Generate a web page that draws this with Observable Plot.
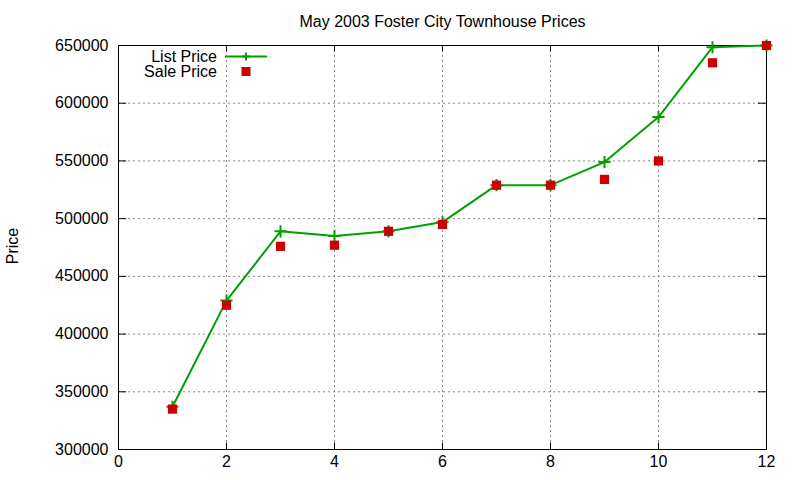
<!DOCTYPE html>
<html><head><meta charset="utf-8">
<script src="https://cdn.jsdelivr.net/npm/d3@7"></script>
<script src="https://cdn.jsdelivr.net/npm/@observablehq/plot@0.6"></script>
<style>
body{margin:0;background:#fff;font-family:"Liberation Sans",Arial,sans-serif;}
#wrap{position:relative;width:800px;height:480px;}
#legend{position:absolute;left:0;top:0;}
</style></head>
<body><div id="wrap"></div>
<script>
const title = "May 2003 Foster City Townhouse Prices";
const yLabel = "Price";
const months = [1,2,3,4,5,6,7,8,9,10,11,12];
const listPrice = [337000,429000,489000,485000,489000,497000,529000,529000,549000,588000,648500,650000];
const salePrice = [335000,425000,476000,477000,489000,495000,529000,529000,534000,550000,635000,650000];
const xTicks = [0,2,4,6,8,10,12];
const yTicks = [300000,350000,400000,450000,500000,550000,600000,650000];
const seriesNames = ["List Price","Sale Price"];
const green = "#00a000", red = "#cc0000";

const listData = months.map((m,i)=>({x:m,y:listPrice[i]}));
const saleData = months.map((m,i)=>({x:m,y:salePrice[i]}));

const chart = Plot.plot({
  width: 800, height: 480,
  marginLeft: 118, marginRight: 34, marginTop: 45, marginBottom: 31,
  style: {fontFamily: '"Liberation Sans",Arial,sans-serif', fontSize: "16px", color: "#000"},
  x: {domain: [0,12]},
  y: {domain: [300000,650000]},
  marks: [
    Plot.gridX(xTicks.slice(1,-1), {stroke:"#888", strokeOpacity:1, strokeDasharray:"2,3"}),
    Plot.gridY(yTicks.slice(1,-1), {stroke:"#888", strokeOpacity:1, strokeDasharray:"2,3"}),
    Plot.ruleY(yTicks, {x1: 0, x2: 0.15, stroke:"#000"}),
    Plot.ruleY(yTicks, {x1: 11.85, x2: 12, stroke:"#000"}),
    Plot.ruleX(xTicks, {y1: 300000, y2: 305500, stroke:"#000"}),
    Plot.ruleX(xTicks, {y1: 644500, y2: 650000, stroke:"#000"}),
    Plot.frame({stroke:"#000"}),
    Plot.axisX(xTicks, {tickSize: 0, tickPadding: 6, fontSize: 16, label: null}),
    Plot.axisY(yTicks, {tickSize: 0, tickPadding: 10, fontSize: 16, tickFormat: d3.format("d"), label: null}),
    Plot.line(listData, {x:"x", y:"y", stroke: green, strokeWidth: 2}),
    Plot.dot(listData, {x:"x", y:"y", symbol:"plus", stroke: green, strokeWidth: 2, r: 4}),
    Plot.dot(saleData, {x:"x", y:"y", symbol:"square", fill: red, r: 5.2}),
    Plot.text([title], {frameAnchor:"top", dy:-30, fontSize:16, fill:"#000"})
  ]
});
document.getElementById("wrap").appendChild(chart);

// legend + y label overlay
const ns = "http://www.w3.org/2000/svg";
const lg = document.createElementNS(ns, "svg");
lg.setAttribute("id","legend"); lg.setAttribute("width",800); lg.setAttribute("height",480);
lg.innerHTML = `
<g font-family='"Liberation Sans",Arial,sans-serif' font-size="16" text-anchor="end">
  <text x="217" y="61.5">${seriesNames[0]}</text>
  <text x="217" y="77">${seriesNames[1]}</text>
</g>
<text transform="translate(18,246) rotate(-90)" text-anchor="middle" font-family='"Liberation Sans",Arial,sans-serif' font-size="16">${yLabel}</text>
<line x1="225" x2="267" y1="56.5" y2="56.5" stroke="${green}" stroke-width="2"/>
<line x1="242" x2="250" y1="56.5" y2="56.5" stroke="${green}" stroke-width="2"/>
<line x1="246" x2="246" y1="52.5" y2="60.5" stroke="${green}" stroke-width="2"/>
<rect x="241.5" y="67" width="9" height="9" fill="${red}"/>`;
document.getElementById("wrap").appendChild(lg);
</script></body></html>
